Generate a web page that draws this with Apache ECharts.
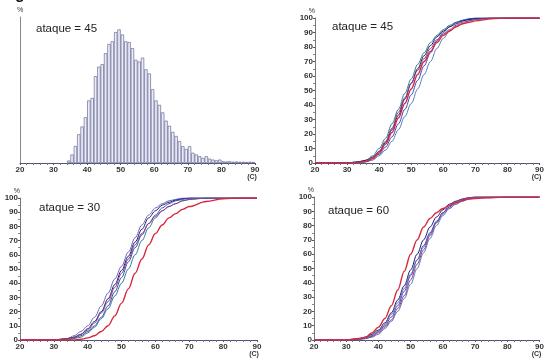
<!DOCTYPE html>
<html>
<head>
<meta charset="utf-8">
<script src="https://cdn.jsdelivr.net/npm/echarts@6/dist/echarts.min.js"></script>
<style>
  html, body { margin: 0; padding: 0; background: #fff; }
  #chart { width: 547px; height: 358px; }
</style>
</head>
<body>
<div id="chart"></div>
<script>
// histogram (ataque = 45): bin left edge (C) and frequency (%)
const histBins = [34,35,36,37,38,39,40,41,42,43,44,45,46,47,48,49,50,51,52,53,54,55,56,57,58,59,
  60,61,62,63,64,65,66,67,68,69,70,71,72,73,74,75,76,77,78,79,80,81,82,83,84,85,86,87,88,89]
const histFreq = [0.1,0.35,0.7,1.18,1.5,1.88,2.57,2.67,3.57,3.96,4.06,4.51,4.89,5.0,5.38,5.49,5.28,5.0,4.97,4.72,4.24,4.17,
  4.33,3.85,3.68,3.03,2.57,2.39,2.08,1.74,1.53,1.28,1.11,0.9,0.69,0.58,0.69,0.42,0.35,0.28,0.21,0.28,0.18,0.14,0.11,0.14,
  0.07,0.06,0.07,0.05,0.06,0.05,0.05,0.04,0.05,0.04]

// cumulative curves, sampled at these temperatures
const tempSteps = [20,30,34,36,38,40,42,44,46,48,50,52,54,56,58,60,62,64,66,68,70,75,80,85,90]

// ataque = 45
const cdf45Red    = [0,0,0.5,1,3,7,13,21,31,41,51,61,70,77,83,88,91,94,96,97,98,99.5,100,100,100]
const cdf45Teal   = [0,0,1,2,5,10,17,27,37,48,58,68,76,83,88,92,95,97,98,99,100,100,100,100,100]
const cdf45Navy   = [0,0,1,2,4,8,14,23,33,44,55,65,74,81,87,91,94,96,98,99,99.5,100,100,100,100]
const cdf45Blue   = [0,0,0.5,1,3,6,11,18,27,37,47,57,67,76,84,90,94,97,98.5,99.5,100,100,100,100,100]
const cdf45Steel  = [0,0,0,1,2,5,9,15,23,32,41,51,61,70,79,86,91,94,96,98,99,100,100,100,100]
const cdf45Purple = [0,0,0.5,1.5,4,8,15,24,35,45,55,64,72,79,85,89,92,95,97,98,99,100,100,100,100]

// ataque = 30
const cdf30Red    = [0,0,0,0,0.5,1.5,3,6,10,17,26,36,47,57,67,75,81,86,89,92,94,97.5,99.5,100,100]
const cdf30Slate  = [0,0,1,3,6,10,16,24,33,43,52,62,72,81,88,93,96,98,99,100,100,100,100,100,100]
const cdf30Navy   = [0,0,1,2,4,8,13,20,29,39,49,59,69,78,86,91,95,97,98.5,99.5,100,100,100,100,100]
const cdf30Blue   = [0,0,0.5,1.5,3,6,10,16,24,34,44,55,65,74,82,88,93,96,98,99,100,100,100,100,100]
const cdf30Teal   = [0,0,0.5,1,2,5,9,15,22,31,40,50,60,70,79,86,91,94,96,98,99,100,100,100,100]
const cdf30Purple = [0,0,1,2,4,7,12,19,27,37,47,57,67,75,82,87,91,94,96,98,99,100,100,100,100]

// ataque = 60
const cdf60Red    = [0,0,1,2,5,9,15,24,35,48,60,70,79,85,89,92,94,96,97.5,98.5,99,99.5,100,100,100]
const cdf60Navy   = [0,0,1,2,4,7,12,19,28,38,49,60,70,79,86,91,95,97,98.5,99.5,100,100,100,100,100]
const cdf60Blue   = [0,0,0.5,1.5,3,6,10,16,24,34,45,56,66,75,83,89,93,96,98,99,100,100,100,100,100]
const cdf60Steel  = [0,0,0.5,1,2,4,8,13,20,29,39,50,61,71,80,87,92,95,97,99,99.5,100,100,100,100]
const cdf60Slate  = [0,0,1,2,3,6,11,18,26,36,46,56,65,74,82,88,92,95,97,98.5,99.5,100,100,100,100]
const cdf60Purple = [0,0,0.5,1,2.5,5,9,14,22,31,42,53,63,73,82,89,94,97,98.5,99.5,100,100,100,100,100]

const panelLabels = ['ataque = 45', 'ataque = 45', 'ataque = 30', 'ataque = 60']

const lineColors = {
  red: '#d42a3c', teal: '#2f7f8c', navy: '#1c1f6a', blue: '#3a48c0',
  steel: '#5a7fb0', slate: '#6a6ab8', purple: '#8c3c86'
}

const chart = echarts.init(document.getElementById('chart'))
const font = 'Liberation Sans, Arial, sans-serif'

const grids = [
  { left: 20, top: 17, width: 235, height: 146 },
  { left: 315, top: 18, width: 230, height: 145 },
  { left: 20, top: 198, width: 237, height: 146 },
  { left: 314, top: 197, width: 232, height: 146 },
]

const xAxisFor = (gridIndex) => ({
  type: 'value', gridIndex, min: 20, max: 90, interval: 10,
  axisLine: { show: true, lineStyle: { color: '#50547a', width: 1 } },
  axisTick: { show: true, length: 2, lineStyle: { color: '#50547a' } },
  minorTick: { show: true, splitNumber: 5, length: 2, lineStyle: { color: '#777' } },
  axisLabel: { fontSize: 8, fontWeight: 'bold', color: '#333', margin: 3, fontFamily: font },
  splitLine: { show: false },
  name: '(C)', nameLocation: 'end', nameGap: -3,
  nameTextStyle: { fontSize: 7, fontWeight: 'bold', color: '#333', align: 'center', verticalAlign: 'top', padding: [11, 0, 0, 0] },
})

const yAxisFor = (gridIndex) => ({
  type: 'value', gridIndex, min: 0, max: 100, interval: 10,
  axisLine: { show: true, lineStyle: { color: '#777', width: 1 } },
  axisTick: { show: true, length: 2, lineStyle: { color: '#555' } },
  minorTick: { show: true, splitNumber: 2, length: 2, lineStyle: { color: '#888' } },
  axisLabel: { fontSize: 8, fontWeight: 'bold', color: '#333', margin: 2, fontFamily: font },
  splitLine: { show: false },
  name: '%', nameLocation: 'end', nameGap: 3,
  nameTextStyle: { fontSize: 7, color: '#333', align: 'right', padding: [0, 0, 0, 0] },
})

const curve = (gridIndex, values, color, width) => ({
  type: 'line', xAxisIndex: gridIndex, yAxisIndex: gridIndex,
  data: tempSteps.map((t, i) => [t, values[i]]),
  smooth: 0.35, smoothMonotone: 'x', symbol: 'none',
  lineStyle: { color, width: width || 1 },
  z: color === lineColors.red ? 3 : 2,
})

const option = {
  animation: false,
  backgroundColor: '#fff',
  grid: grids,
  xAxis: [0, 1, 2, 3].map(xAxisFor),
  yAxis: [
    {
      type: 'value', gridIndex: 0, min: 0, max: 6, interval: 1,
      axisLine: { show: true, lineStyle: { color: '#888' } },
      axisTick: { show: false }, axisLabel: { show: false }, splitLine: { show: false },
      name: '%', nameLocation: 'end', nameGap: 3,
      nameTextStyle: { fontSize: 7, color: '#333', align: 'center' },
    },
    yAxisFor(1), yAxisFor(2), yAxisFor(3),
  ],
  title: [
    { text: panelLabels[0], left: 36, top: 23 },
    { text: panelLabels[1], left: 332, top: 21 },
    { text: panelLabels[2], left: 39, top: 202 },
    { text: panelLabels[3], left: 328, top: 205 },
  ].map((t) => ({ ...t, padding: 0, textStyle: { fontSize: 11.5, fontWeight: 'normal', color: '#222', fontFamily: font } })),
  graphic: [
    { type: 'text', left: 15, top: -13, style: { text: 'g', fontSize: 16, fontWeight: 'bold', fill: '#111', fontFamily: font } },
  ],
  series: [
    {
      type: 'bar', xAxisIndex: 0, yAxisIndex: 0,
      data: histBins.map((b, i) => [b + 0.5, histFreq[i]]),
      barWidth: '100%',
      itemStyle: { color: '#ececf7', borderColor: '#6a6c98', borderWidth: 0.7 },
    },
    curve(1, cdf45Teal, lineColors.teal),
    curve(1, cdf45Steel, lineColors.steel),
    curve(1, cdf45Blue, lineColors.blue),
    curve(1, cdf45Navy, lineColors.navy),
    curve(1, cdf45Purple, lineColors.purple),
    curve(1, cdf45Red, lineColors.red, 1.4),

    curve(2, cdf30Slate, lineColors.slate),
    curve(2, cdf30Navy, lineColors.navy),
    curve(2, cdf30Blue, lineColors.blue),
    curve(2, cdf30Teal, lineColors.teal),
    curve(2, cdf30Purple, lineColors.purple),
    curve(2, cdf30Red, lineColors.red, 1.4),

    curve(3, cdf60Navy, lineColors.navy),
    curve(3, cdf60Blue, lineColors.blue),
    curve(3, cdf60Steel, lineColors.steel),
    curve(3, cdf60Slate, lineColors.slate),
    curve(3, cdf60Purple, lineColors.purple),
    curve(3, cdf60Red, lineColors.red, 1.4),
  ],
}

chart.setOption(option)
</script>
</body>
</html>
